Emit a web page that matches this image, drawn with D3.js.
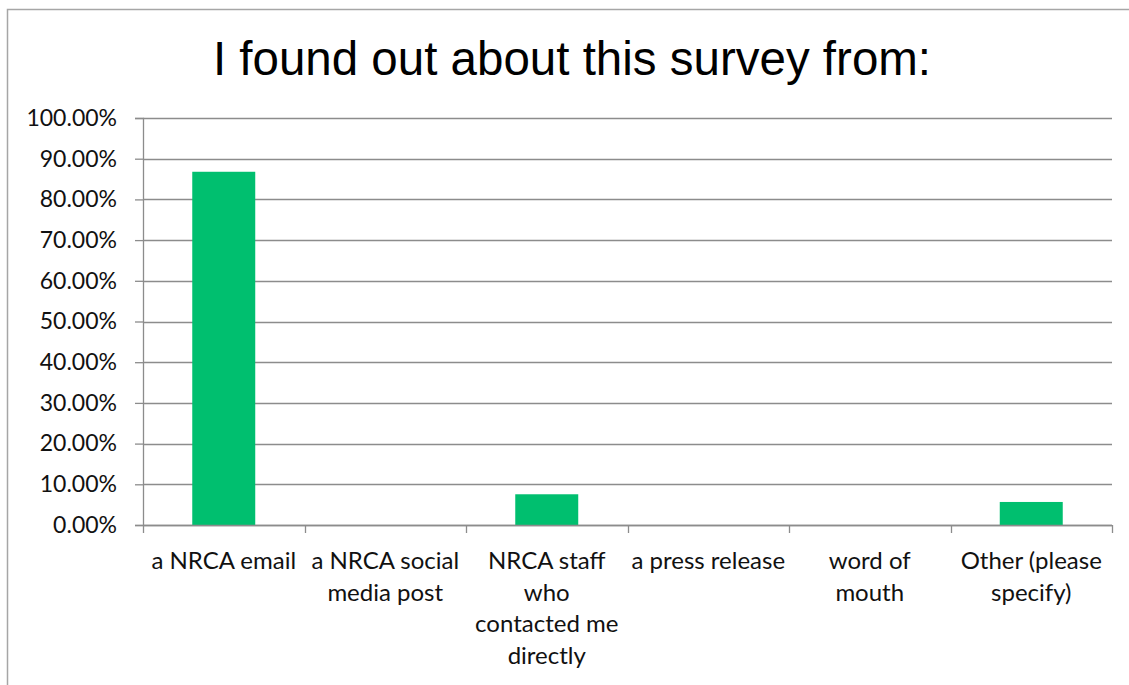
<!DOCTYPE html>
<html>
<head>
<meta charset="utf-8">
<script src="https://cdnjs.cloudflare.com/ajax/libs/d3/7.8.5/d3.min.js"></script>
<style>
  body { margin: 0; background: #fff; }
</style>
</head>
<body>
<div id="chart"></div>
<script>
// chart data
var chartTitle = "I found out about this survey from:";
var categories = ["a NRCA email", "a NRCA social media post", "NRCA staff who contacted me directly",
                  "a press release", "word of mouth", "Other (please specify)"];
// wrapped the way the original wraps them
var categoryLines = [["a NRCA email"], ["a NRCA social", "media post"], ["NRCA staff", "who", "contacted me", "directly"],
                     ["a press release"], ["word of", "mouth"], ["Other (please", "specify)"]];
var percentages = [86.79, 0, 7.55, 0, 0, 5.66];
var yTicks = [0, 10, 20, 30, 40, 50, 60, 70, 80, 90, 100];

var svgWidth = 1129, svgHeight = 685;
var margin = {top: 118, right: 17, bottom: 160, left: 143};
var plotW = svgWidth - margin.left - margin.right;
var plotH = svgHeight - margin.top - margin.bottom;

svg = d3.select("#chart").append("svg")
  .attr("width", svgWidth).attr("height", svgHeight);

// chart area border (top + left only visible in the picture)
svg.append("path")
  .attr("d", "M7.5," + svgHeight + " V9.5 H" + svgWidth)
  .attr("fill", "none")
  .attr("stroke", "#a6a6a6")
  .attr("stroke-width", 1.5);

svg.append("text")
  .attr("x", 572)
  .attr("y", 75)
  .attr("text-anchor", "middle")
  .attr("font-family", "'Liberation Sans', Arial, sans-serif")
  .attr("font-size", "47.5px")
  .attr("fill", "#000")
  .text(chartTitle);

var g = svg.append("g").attr("transform", "translate(" + margin.left + "," + margin.top + ")");

var y = d3.scaleLinear().domain([0, 100]).range([plotH, 0]);
var xCat = d3.scaleBand().domain(categories).range([0, plotW]).paddingInner(0.61).paddingOuter(0.305);
var xEdge = d3.scaleBand().domain(categories).range([0, plotW]);

// gridlines
g.selectAll(".grid").data(yTicks).enter().append("line")
  .attr("x1", 0).attr("x2", plotW)
  .attr("y1", function(d) { return Math.round(y(d)) + 0.5; })
  .attr("y2", function(d) { return Math.round(y(d)) + 0.5; })
  .attr("stroke", "#8c8c8c")
  .attr("stroke-width", 1.3);

// y axis
var yAxis = g.append("g")
  .call(d3.axisLeft(y).tickValues(yTicks).tickSize(8).tickPadding(18)
    .tickFormat(function(d) { return d.toFixed(2) + "%"; }));
yAxis.select(".domain").attr("stroke", "#8c8c8c").attr("stroke-width", 1.3);
yAxis.selectAll(".tick line").attr("stroke", "#8c8c8c").attr("stroke-width", 1.3);
yAxis.selectAll(".tick text")
  .attr("font-family", "Lato, 'Open Sans', sans-serif")
  .attr("font-size", "23px")
  .attr("fill", "#111");

// bars
g.selectAll(".bar").data(percentages).enter().append("rect")
  .attr("x", function(d, i) { return xCat(categories[i]); })
  .attr("y", function(d) { return y(d); })
  .attr("width", xCat.bandwidth())
  .attr("height", function(d) { return plotH - y(d); })
  .attr("fill", "#00bf6f");

// x axis line and category separators
g.append("line")
  .attr("x1", 0).attr("x2", plotW)
  .attr("y1", plotH + 0.5).attr("y2", plotH + 0.5)
  .attr("stroke", "#8c8c8c").attr("stroke-width", 1.3);
var edges = categories.map(function(c) { return xEdge(c); }).concat([plotW]);
g.selectAll(".xtick").data(edges).enter().append("line")
  .attr("x1", function(d) { return Math.round(d) + 0.5; })
  .attr("x2", function(d) { return Math.round(d) + 0.5; })
  .attr("y1", plotH).attr("y2", plotH + 8)
  .attr("stroke", "#8c8c8c").attr("stroke-width", 1.3);

// category labels
g.selectAll(".xlabel").data(categoryLines).enter().append("text")
  .attr("text-anchor", "middle")
  .attr("font-family", "Lato, 'Open Sans', sans-serif")
  .attr("font-size", "24px")
  .attr("fill", "#111")
  .each(function(lines, i) {
    var cx = xEdge(categories[i]) + xEdge.bandwidth() / 2;
    var t = d3.select(this);
    lines.forEach(function(line, k) {
      t.append("tspan")
        .attr("x", cx)
        .attr("y", plotH + 44 + k * 31.5)
        .text(line);
    });
  });
</script>
</body>
</html>
